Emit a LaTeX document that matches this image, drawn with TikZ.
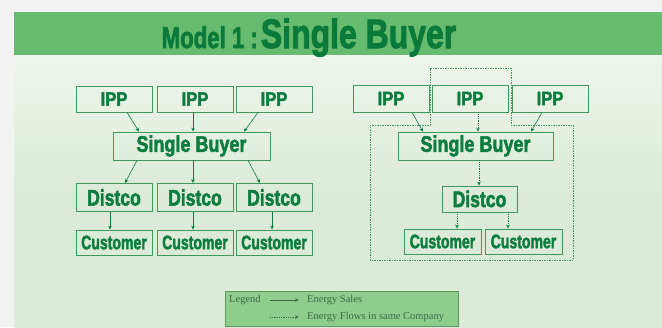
\documentclass[tikz,border=0pt]{standalone}
\usepackage{fontspec}
\setmainfont{Liberation Serif}
\newfontfamily\heavy[FakeBold=2.5]{Liberation Sans}
\usetikzlibrary{arrows.meta}
\definecolor{bandc}{HTML}{66BB6E}
\definecolor{bgc}{HTML}{DCEBD7}
\definecolor{bgtop}{HTML}{EEF5EC}
\definecolor{titlec}{HTML}{0A7A3A}
\definecolor{boxc}{HTML}{3E9A5C}
\definecolor{txtc}{HTML}{0B7D3E}
\definecolor{legfill}{HTML}{8FCD8C}
\definecolor{legdraw}{HTML}{5A9A5E}
\definecolor{legtxt}{HTML}{3F6A45}
\newcommand{\cnd}[3]{\scalebox{#1}[1]{\fontsize{#2}{#2}\selectfont #3}}
\tikzset{
  bx/.style={draw=boxc, line width=0.8pt, inner sep=0pt, text=txtc, font=\heavy\bfseries},
  ippbox/.style={bx, minimum width=76pt, minimum height=26pt},
  sbbox/.style={bx, minimum width=157pt, minimum height=28pt},
  dbox/.style={bx, minimum width=76pt, minimum height=28pt},
  cbox/.style={bx, minimum width=76pt, minimum height=25pt},
  arr/.style={draw=txtc, line width=0.6pt, -{Stealth[length=4pt,width=3.5pt]}},
  darr/.style={arr, dash pattern=on 1pt off 0.8pt},
  company/.style={draw=boxc, line width=0.6pt, dash pattern=on 1.5pt off 1pt},
  legtext/.style={text=legtxt, font=\fontsize{10.5}{11}\selectfont, inner sep=0pt, anchor=west}
}
\begin{document}
\begin{tikzpicture}[x=1pt,y=-1pt]
\useasboundingbox (0,0) rectangle (662,327);
% background
\fill[white!95!black] (0,0) rectangle (662,327);
\shade[top color=bgtop, bottom color=bgc, middle color=bgc] (14,55) rectangle (662,327);
\fill[bandc] (14,12) rectangle (662,55);
% title
\node[anchor=base, inner sep=0pt, text=titlec, font=\heavy\bfseries] (title) at (309,48)
  {\cnd{0.74}{30}{Model 1 :}\hspace{3pt}\cnd{0.78}{41}{Single Buyer}};

% ---------- left diagram ----------
\node[ippbox] (li1) at (114,99) {\cnd{0.85}{19.5}{IPP}};
\node[ippbox] (li2) at (195,99) {\cnd{0.85}{19.5}{IPP}};
\node[ippbox] (li3) at (274,99) {\cnd{0.85}{19.5}{IPP}};
\node[sbbox]  (lsb) at (191.5,146) {\cnd{0.8}{22.5}{Single Buyer}};
\node[dbox] (ld1) at (114,197.5) {\cnd{0.78}{22.5}{Distco}};
\node[dbox] (ld2) at (195,197.5) {\cnd{0.78}{22.5}{Distco}};
\node[dbox] (ld3) at (274,197.5) {\cnd{0.78}{22.5}{Distco}};
\node[cbox] (lc1) at (114,242.5) {\cnd{0.72}{19.5}{Customer}};
\node[cbox] (lc2) at (195,242.5) {\cnd{0.72}{19.5}{Customer}};
\node[cbox] (lc3) at (274,242.5) {\cnd{0.72}{19.5}{Customer}};

\draw[arr] ([xshift=13pt]li1.south) -- ([xshift=-52.5pt]lsb.north);
\draw[arr] ([xshift=-2pt]li2.south) -- ([xshift=1.5pt]lsb.north);
\draw[arr] ([xshift=-16pt]li3.south) -- ([xshift=52.5pt]lsb.north);
\draw[arr] ([xshift=-54.5pt]lsb.south) -- ([xshift=11pt]ld1.north);
\draw[arr] ([xshift=1.5pt]lsb.south) -- ([xshift=-2pt]ld2.north);
\draw[arr] ([xshift=56.5pt]lsb.south) -- ([xshift=-14pt]ld3.north);
\draw[arr] ([xshift=-4pt]ld1.south) -- ([xshift=-4pt]lc1.north);
\draw[arr] ([xshift=-2pt]ld2.south) -- ([xshift=-2pt]lc2.north);
\draw[arr] ([xshift=-2pt]ld3.south) -- ([xshift=-2pt]lc3.north);

% ---------- right diagram ----------
\coordinate (p1) at (430,68);
\coordinate (p2) at (511,68);
\coordinate (p3) at (511,125);
\coordinate (p4) at (573,125);
\coordinate (p5) at (573,260);
\coordinate (p6) at (370,260);
\coordinate (p7) at (370,125);
\coordinate (p8) at (430,125);
\draw[company] (p1) -- (p2) -- (p3) -- (p4) -- (p5) -- (p6) -- (p7) -- (p8) -- cycle;

\node[ippbox, minimum height=27pt] (ri1) at (391,98.5) {\cnd{0.85}{19.5}{IPP}};
\node[ippbox, minimum height=27pt] (ri2) at (470,98.5) {\cnd{0.85}{19.5}{IPP}};
\node[ippbox, minimum height=27pt] (ri3) at (550,98.5) {\cnd{0.85}{19.5}{IPP}};
\node[sbbox, minimum width=155pt] (rsb) at (475.5,146) {\cnd{0.8}{22.5}{Single Buyer}};
\node[dbox, minimum width=75pt, minimum height=26pt] (rd) at (479.5,199) {\cnd{0.78}{22.5}{Distco}};
\node[cbox, minimum width=77pt] (rc1) at (442.5,241.5) {\cnd{0.72}{19.5}{Customer}};
\node[cbox, minimum width=77pt] (rc2) at (523.5,241.5) {\cnd{0.72}{19.5}{Customer}};

\draw[arr] ([xshift=21pt]ri1.south) -- ([xshift=-52.5pt]rsb.north);
\draw[darr] ([xshift=8pt]ri2.south) -- ([xshift=2.5pt]rsb.north);
\draw[arr] ([xshift=-8pt]ri3.south) -- ([xshift=55.5pt]rsb.north);
\draw[darr] ([xshift=3.5pt]rsb.south) -- ([xshift=-0.5pt]rd.north);
\draw[darr] ([xshift=-22.5pt]rd.south) -- ([xshift=14.5pt]rc1.north);
\draw[darr] ([xshift=28.5pt]rd.south) -- ([xshift=-15.5pt]rc2.north);

% ---------- legend ----------
\node[draw=legdraw, fill=legfill, line width=0.6pt, minimum width=233pt, minimum height=35pt, inner sep=0pt] (legend) at (341.5,308.5) {};
\node[legtext] (lgl) at (229,300) {Legend};
\coordinate (a1s) at (270,300);
\coordinate (a1e) at (299,300);
\draw[arr, draw=legtxt] (a1s) -- (a1e);
\node[legtext] (lg1) at (307,300) {Energy Sales};
\coordinate (a2s) at (270,317);
\coordinate (a2e) at (299,317);
\draw[darr, draw=legtxt] (a2s) -- (a2e);
\node[legtext] (lg2) at (307,317) {Energy Flows in same Company};
\end{tikzpicture}
\end{document}
